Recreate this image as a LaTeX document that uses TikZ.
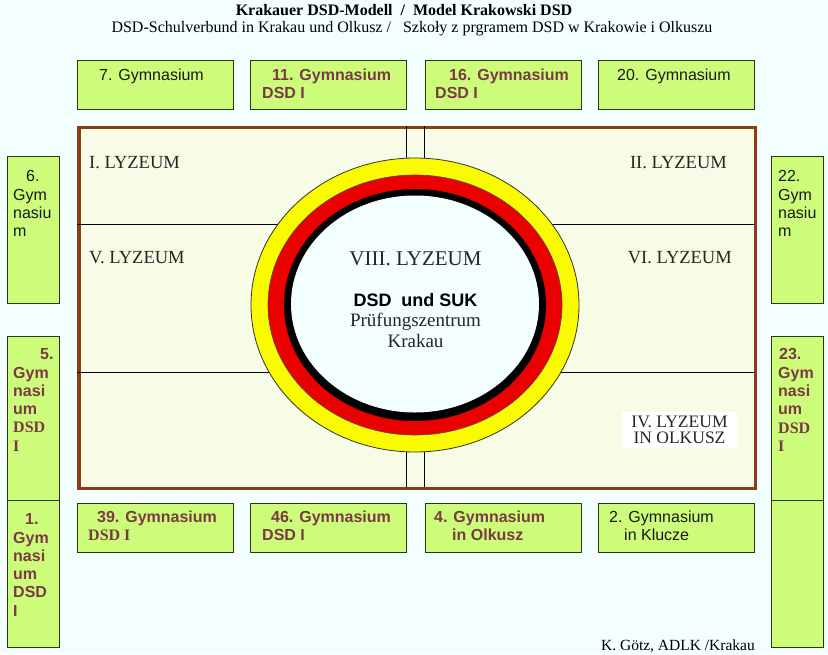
\documentclass[tikz,border=0pt]{standalone}
\usepackage{color}
\usepackage{fontspec}
\setmainfont{Liberation Serif}
\setsansfont{Liberation Sans}
\usepackage{tikz}
\usetikzlibrary{shapes,arrows,calc}
\definecolor{bgcyan}{RGB}{243,254,254}
\definecolor{gymfill}{RGB}{204,252,122}
\definecolor{gymline}{RGB}{38,56,12}
\definecolor{dsdtext}{RGB}{122,58,68}
\definecolor{framebrown}{RGB}{139,60,20}
\definecolor{framefill}{RGB}{246,252,230}
\definecolor{dsdyellow}{RGB}{250,250,0}
\definecolor{dsdred}{RGB}{235,0,0}
\tikzstyle{gym} = [draw=gymline, fill=gymfill, rectangle, anchor=north west, inner sep=0pt, line width=1pt, minimum width=156pt, minimum height=49pt]
\tikzstyle{tall} = [gym, minimum width=52pt, minimum height=147pt]
\tikzstyle{gymtext} = [anchor=north west, align=left, inner sep=0pt, text=black!90, font=\sffamily\fontsize{16}{18.3}\selectfont]
\tikzstyle{dsd} = [gymtext, text=dsdtext, font=\sffamily\bfseries\fontsize{16}{18.3}\selectfont]
\tikzstyle{lyzeum} = [inner sep=0pt, text=black!85, font=\fontsize{18.5}{15}\selectfont]
\tikzstyle{divider} = [draw, line width=0.8pt]

\begin{document}
\begin{tikzpicture}[x=1pt, y=-1pt]
        \useasboundingbox (0,0) rectangle (828,654);
        \fill[bgcyan] (0,0) rectangle (828,654);
        \node[anchor=base, inner sep=0pt, font=\bfseries\fontsize{16}{18}\selectfont] (title) at (404,15) {Krakauer DSD-Modell\ \ /\ \ Model Krakowski DSD};
        \node[anchor=base, inner sep=0pt, font=\fontsize{16}{18}\selectfont] (subtitle) at (412,32.5) {DSD-Schulverbund in Krakau und Olkusz /\ \ \ Szkoły z prgramem DSD w Krakowie i Olkuszu};
        \node[draw=framebrown, fill=framefill, line width=3.5pt, rectangle, anchor=north west, inner sep=0pt, minimum width=676.4pt, minimum height=361pt] (frame) at (77.3,125.7) {};
        \path[divider] (77,224) -- (754,224);
        \path[divider] (77,372) -- (754,372);
        \path[divider] (406,126) -- (406,487);
        \path[divider] (424,126) -- (424,487);
        \draw[fill=dsdyellow, draw=black!80, line width=0.8pt] (415,305) ellipse [x radius=164pt, y radius=147pt];
        \draw[fill=dsdred, draw=black!70, line width=0.6pt] (415,305) ellipse [x radius=147pt, y radius=130pt];
        \fill[black] (415,305) ellipse [x radius=131pt, y radius=116pt];
        \fill[bgcyan] (415,304) ellipse [x radius=124pt, y radius=108.5pt];
        \node[lyzeum, anchor=base west] (ly1) at (89,168) {I. LYZEUM};
        \node[lyzeum, anchor=base east] (ly2) at (727,168) {II. LYZEUM};
        \node[lyzeum, anchor=base west] (ly5) at (89,263) {V. LYZEUM};
        \node[lyzeum, anchor=base east] (ly6) at (732,263) {VI. LYZEUM};
        \node[lyzeum, fill=white, align=center, minimum width=115pt, minimum height=36pt, font=\fontsize{17.5}{16}\selectfont] (ly4) at (679.5,430) {IV. LYZEUM\\IN OLKUSZ};
        \node[lyzeum, anchor=base, font=\fontsize{21}{22}\selectfont] (ly8) at (415.5,265) {VIII. LYZEUM};
        \node[anchor=base, inner sep=0pt, font=\sffamily\bfseries\fontsize{18}{20}\selectfont] (suk) at (415.5,306) {DSD\ \ und SUK};
        \node[lyzeum, anchor=base, font=\fontsize{19}{20}\selectfont] (pz) at (415.5,326) {Prüfungszentrum};
        \node[lyzeum, anchor=base, font=\fontsize{19}{20}\selectfont] (krakau) at (415.5,347) {Krakau};
        \node[gym] (g7) at (77,60) {};
        \node[gym] (g11) at (250,60) {};
        \node[gym] (g16) at (425,60) {};
        \node[gym] (g20) at (598,60) {};
        \node[gymtext] (g7t) at (99,68.5) {7. Gymnasium};
        \node[dsd] (g11t) at (262,68.5) {\hspace*{10pt}11. Gymnasium\\DSD I};
        \node[dsd] (g16t) at (435,68.5) {\hspace*{14pt}16. Gymnasium\\DSD I};
        \node[gymtext] (g20t) at (617,68.5) {20. Gymnasium};
        \node[gym] (g39) at (77,503) {};
        \node[gym] (g46) at (250,503) {};
        \node[gym] (g4) at (425,503) {};
        \node[gym] (g2) at (598,503) {};
        \node[dsd] (g39t) at (88,510.5) {\hspace*{9pt}39. Gymnasium\\{\rmfamily DSD I}};
        \node[dsd] (g46t) at (262,510.5) {\hspace*{9pt}46. Gymnasium\\DSD I};
        \node[dsd] (g4t) at (434,510.5) {4. Gymnasium\\\hspace*{18pt}in Olkusz};
        \node[gymtext] (g2t) at (609,510.5) {2. Gymnasium\\\hspace*{15pt}in Klucze};
        \node[tall] (g6) at (7,156) {};
        \node[tall, minimum height=164pt] (g5) at (7,336) {};
        \node[tall] (g1) at (7,500) {};
        \node[tall] (g22) at (771,156) {};
        \node[tall, minimum height=164pt] (g23) at (771,336) {};
        \node[tall] (g0) at (771,500) {};
        \node[gymtext] (g6t) at (13,170.5) {\hspace*{13pt}6.\\Gym\\nasiu\\m};
        \node[dsd] (g5t) at (13,348.5) {\hspace*{27pt}5.\\Gym\\nasi\\um\\{\rmfamily DSD}\\{\rmfamily I}};
        \node[dsd] (g1t) at (13,513.5) {\hspace*{12pt}1.\\Gym\\nasi\\um\\DSD\\I};
        \node[gymtext] (g22t) at (778,170.5) {22.\\Gym\\nasiu\\m};
        \node[dsd] (g23t) at (778,348.5) {\hspace*{1pt}23.\\Gym\\nasi\\um\\{\rmfamily DSD}\\{\rmfamily I}};
        \node[anchor=base east, inner sep=0pt, font=\fontsize{15.5}{17}\selectfont] (author) at (755,650) {K. Götz, ADLK /Krakau};
    \end{tikzpicture}
\end{document}
